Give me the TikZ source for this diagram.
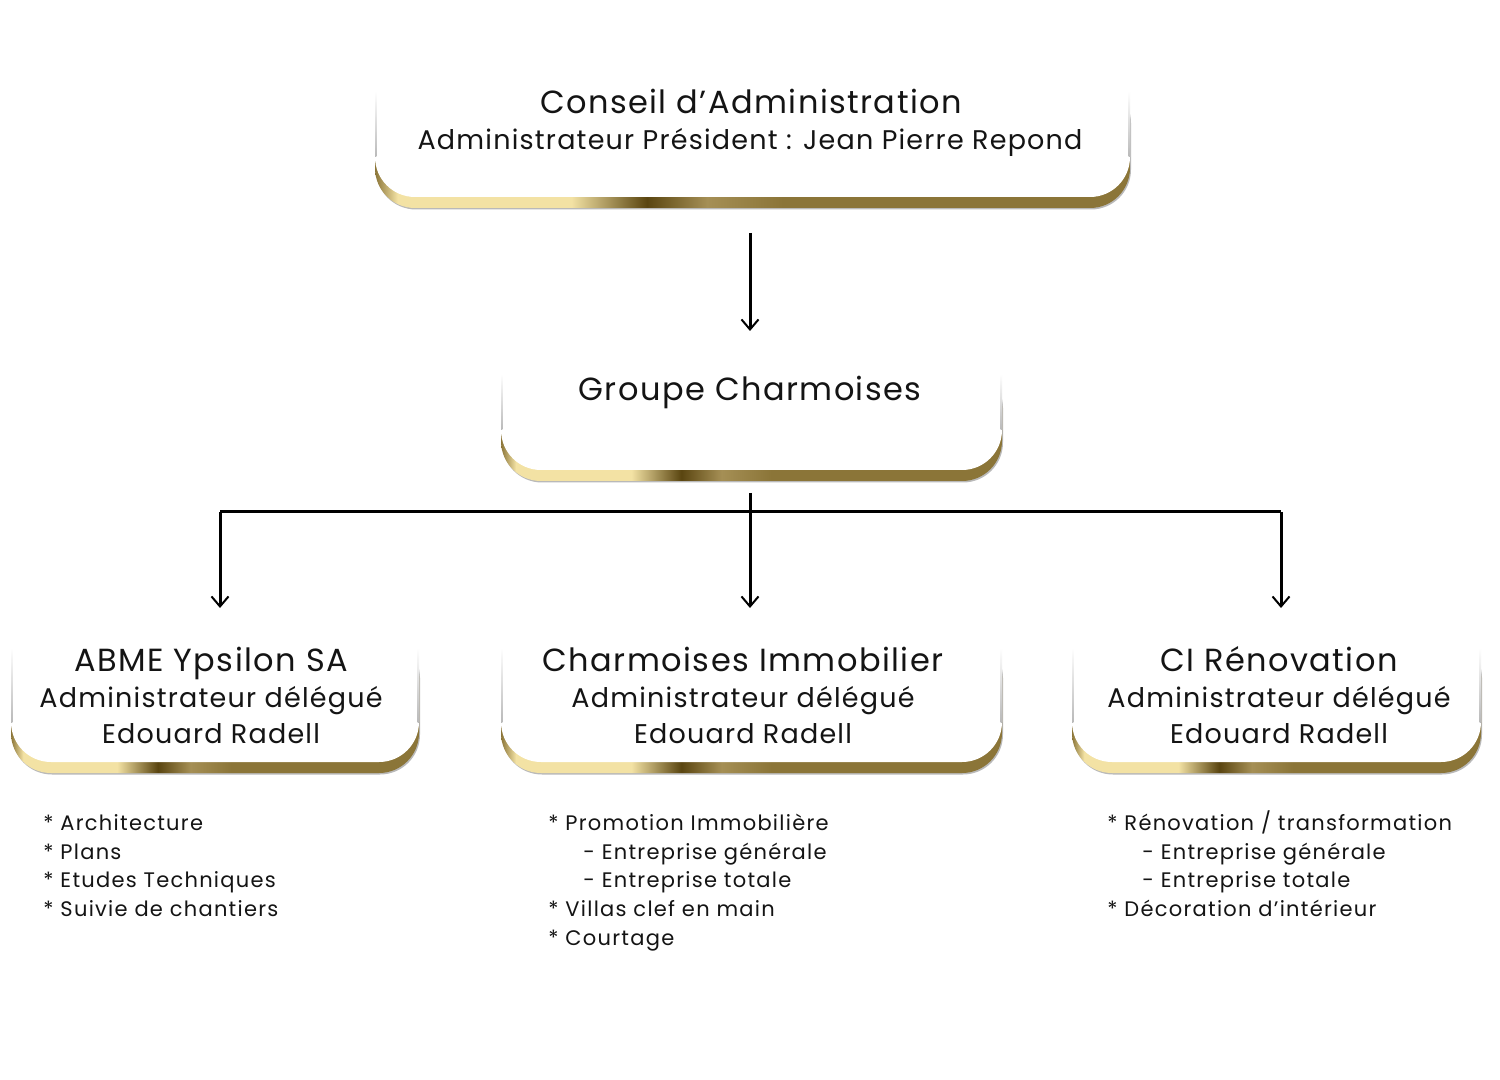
\documentclass[tikz,border=0pt]{standalone}
\usepackage{fontspec}
\setmainfont{Poppins}[LetterSpace=4.5]
\newfontfamily\listfont{Poppins}[LetterSpace=6]
\usetikzlibrary{arrows.meta}
\definecolor{goldA}{RGB}{139,117,56}
\definecolor{goldC}{RGB}{243,226,164}
\definecolor{goldB}{RGB}{90,69,16}
\definecolor{goldM}{RGB}{165,143,85}
\definecolor{txt}{RGB}{20,20,20}
\pgfdeclarehorizontalshading{goldbar}{100bp}{%
  color(0bp)=(goldA); color(25bp)=(goldA); color(26.5bp)=(goldC);
  color(38bp)=(goldC); color(43bp)=(goldB); color(47bp)=(goldM);
  color(52bp)=(goldA); color(100bp)=(goldA)}
\tikzset{
  whitebox/.style={fill=white, draw=none, rounded corners=20pt, inner sep=0pt, outer sep=0pt},
  ttl/.style={anchor=base, text=txt, font=\fontsize{16}{19}\selectfont},
  sub/.style={anchor=base, text=txt, font=\fontsize{13.5}{16}\selectfont},
  lst/.style={anchor=base west, text=txt, font=\listfont\fontsize{10.5}{13}\selectfont, inner sep=0pt},
  conn/.style={line width=1.5pt, draw=black},
  arr/.style={conn, -{Straight Barb[length=5pt,width=8.5pt,line width=1pt]}}
}
\newcommand{\goldbox}[5]{%
  \fill[gray!55, rounded corners=20pt] ({#2-#4/2+1},{#3-#5/2+13}) rectangle ({#2+#4/2+1},{#3+#5/2+12.5});
  \shade[shading=goldbar, rounded corners=20pt] ({#2-#4/2},{#3-#5/2+11}) rectangle ({#2+#4/2},{#3+#5/2+11});
  \node[whitebox, minimum width={#4*0.5pt}, minimum height={#5*0.5pt}] (#1) at (#2,#3) {};
  \shade[top color=white, bottom color=gray!55] ({#2-#4/2},{#3-#5/3}) rectangle ({#2-#4/2+1.4},{#3+#5/2-40});
  \shade[top color=white, bottom color=gray!55] ({#2+#4/2-1.4},{#3-#5/3}) rectangle ({#2+#4/2},{#3+#5/2-40});
}
\begin{document}
\begin{tikzpicture}[x=0.5pt,y=-0.5pt]
\fill[white] (0,0) rectangle (1500,1080);
\useasboundingbox (0,0) rectangle (1500,1080);

\goldbox{conseil}{752.5}{133.5}{755}{127}
\goldbox{groupe}{751.5}{412.5}{501}{115}
\goldbox{abme}{215}{693.5}{408}{137}
\goldbox{immo}{751.5}{693.5}{501}{137}
\goldbox{renov}{1276.5}{693.5}{409}{137}

% texts
\node[ttl] (t1) at (751,114) {Conseil d’Administration};
\node[sub] (t2) at (750,150) {Administrateur Président : Jean Pierre Repond};
\node[ttl] (t3) at (750,401) {Groupe Charmoises};

\node[ttl] (a1) at (211,671) {ABME Ypsilon SA};
\node[sub] (a2) at (211,707) {Administrateur délégué};
\node[sub] (a3) at (211,743) {Edouard Radell};

\node[ttl] (b1) at (743,671) {Charmoises Immobilier};
\node[sub] (b2) at (743,707) {Administrateur délégué};
\node[sub] (b3) at (743,743) {Edouard Radell};

\node[ttl] (c1) at (1279,671) {CI Rénovation};
\node[sub] (c2) at (1279,707) {Administrateur délégué};
\node[sub] (c3) at (1279,743) {Edouard Radell};

% lists
\node[lst] (la1) at (43,830) {* Architecture};
\node[lst] (la2) at (43,859) {* Plans};
\node[lst] (la3) at (43,887) {* Etudes Techniques};
\node[lst] (la4) at (43,916) {* Suivie de chantiers};

\node[lst] (lb1) at (548,830) {* Promotion Immobilière};
\node[lst] (lb2) at (583,859) {- Entreprise générale};
\node[lst] (lb3) at (583,887) {- Entreprise totale};
\node[lst] (lb4) at (548,916) {* Villas clef en main};
\node[lst] (lb5) at (548,945) {* Courtage};

\node[lst] (lc1) at (1107,830) {* Rénovation / transformation};
\node[lst] (lc2) at (1142,859) {- Entreprise générale};
\node[lst] (lc3) at (1142,887) {- Entreprise totale};
\node[lst] (lc4) at (1107,916) {* Décoration d’intérieur};

% connectors
\coordinate (s1) at (750,233);
\coordinate (e1) at (750,331);
\coordinate (s2) at (750,493);
\coordinate (jn) at (750,512);
\coordinate (jl) at (220,512);
\coordinate (jr) at (1281,512);
\coordinate (ea) at (220,608);
\coordinate (eb) at (750,608);
\coordinate (ec) at (1281,608);
\draw[arr] (s1) -- (e1);
\draw[conn] (jl) -- (jr);
\draw[arr] (s2) -- (eb);
\draw[arr] (jl) -- (ea);
\draw[arr] (jr) -- (ec);
\end{tikzpicture}
\end{document}
